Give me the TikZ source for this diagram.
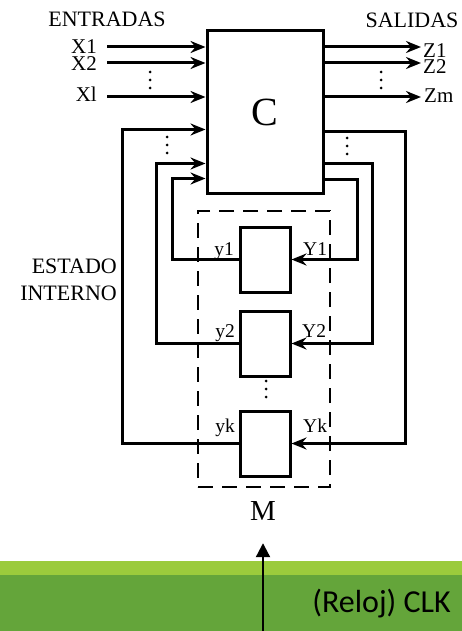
\documentclass[tikz,border=0pt]{standalone}
\usepackage{fontspec}
\setmainfont{Liberation Serif}
\newfontfamily\clkfont{Carlito}
\usepackage{tikz}
\usetikzlibrary{arrows.meta, positioning}
\definecolor{verdeclaro}{HTML}{9BCB3C}
\definecolor{verdeoscuro}{HTML}{64A53A}

\begin{document}
\begin{tikzpicture}[x=1pt, y=-1pt,
  caja/.style={rectangle, draw, line width=3pt, inner sep=0pt},
  ff/.style={caja, minimum width=50pt, minimum height=65pt},
  marco/.style={rectangle, draw, line width=2.6pt, dash pattern=on 15pt off 9pt,
                minimum width=132pt, minimum height=276pt},
  etq/.style={inner sep=0pt, font=\fontsize{21}{25}\selectfont},
  titulo/.style={inner sep=0pt, font=\fontsize{22}{26}\selectfont},
  etqff/.style={inner sep=0pt, font=\fontsize{19.5}{23}\selectfont},
  arr/.style={-{Stealth[length=15pt, width=12pt, inset=5pt]}, line width=3pt},
  reloj/.style={-{Triangle[length=14pt, width=14pt]}, line width=2.2pt},
  node distance=16pt
]
\useasboundingbox (0,0) rectangle (462,631);
\fill[verdeclaro]  (0,561) rectangle (462,575);
\fill[verdeoscuro] (0,575) rectangle (462,631);

\node[caja, minimum width=116pt, minimum height=162pt,
      font=\fontsize{40}{44}\selectfont] (C) at (265,112) {C};
\node[marco] (M) at (264,349) {};
\node[ff] (ff1) at (265,259.5) {};
\node[ff, below=of ff1] (ff2) {};
\node[ff, below=32pt of ff2] (ffk) {};

\node[titulo, anchor=base] (entradas) at (107,27) {ENTRADAS};
\node[titulo, anchor=base] (salidas)  at (412,28) {SALIDAS};
\node[titulo, anchor=base east] (estado)  at (117,273) {ESTADO};
\node[titulo, anchor=base east] (interno) at (117,300) {INTERNO};

\node[etq, anchor=base east] (x1) at (97,54)  {X1};
\node[etq, anchor=base east] (x2) at (97,71)  {X2};
\node[etq, anchor=base east] (xl) at (97,102) {Xl};
\node[etq, anchor=base west] (z1) at (423,58)  {Z1};
\node[etq, anchor=base west] (z2) at (423,74)  {Z2};
\node[etq, anchor=base west] (zm) at (424,103) {Zm};

\node[etqff, anchor=base east] (y1) at (234,255) {y1};
\node[etqff, anchor=base west] (Y1) at (303,255) {Y1};
\node[etqff, anchor=base east] (y2) at (235,337) {y2};
\node[etqff, anchor=base west] (Y2) at (302,337) {Y2};
\node[etqff, anchor=base east] (yk) at (235,432) {yk};
\node[etqff, anchor=base west] (Yk) at (303,432) {Yk};

\node[inner sep=0pt, font=\fontsize{29}{32}\selectfont, anchor=base] (mlab) at (263,520) {M};
\node[inner sep=0pt, font=\clkfont\fontsize{32}{36}\selectfont, anchor=base east] (clk) at (451,612) {(Reloj) CLK};

\coordinate (ex1) at (107,47);
\coordinate (ex2) at (107,63);
\coordinate (exl) at (107,97);
\coordinate (sz1) at (421,47);
\coordinate (sz2) at (421,63);
\coordinate (szm) at (421,97);
\coordinate (pulso) at (263,631);

\draw[arr] (ex1) -- (ex1 -| C.west);
\draw[arr] (ex2) -- (ex2 -| C.west);
\draw[arr] (exl) -- (exl -| C.west);
\draw[arr] (sz1 -| C.east) -- (sz1);
\draw[arr] (sz2 -| C.east) -- (sz2);
\draw[arr] (szm -| C.east) -- (szm);

\draw[arr] (ff1.west) -- ++(-66,0)  |- ([yshift=16pt]C.south west);
\draw[arr] (ff2.west) -- ++(-82,0)  |- ([yshift=31pt]C.south west);
\draw[arr] (ffk.west) -- ++(-116,0) |- ([yshift=65pt]C.south west);
\draw[arr] ([yshift=15pt]C.south east) -- ++(33,0) |- (ff1.east);
\draw[arr] ([yshift=31pt]C.south east) -- ++(48,0) |- (ff2.east);
\draw[arr] ([yshift=63pt]C.south east) -- ++(81,0) |- (ffk.east);

\foreach \p in {(150,72),(381,72),(167,137),(347,138),(266,381)}
  \foreach \d in {0,8,16}
    \fill \p ++(0,\d) circle (1.5pt);

\draw[reloj] (pulso) -- ([yshift=-23pt]mlab.south);
\end{tikzpicture}
\end{document}
